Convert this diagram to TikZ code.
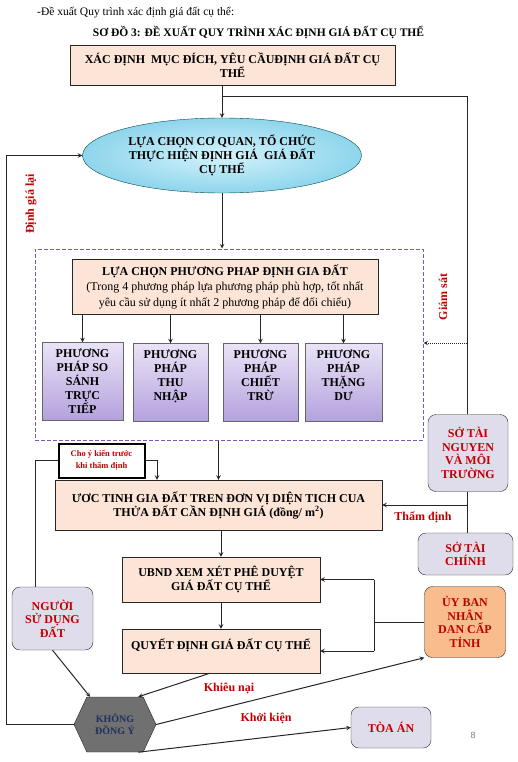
\documentclass[tikz,border=0pt]{standalone}
\usepackage{fontspec}
\setmainfont{Liberation Serif}
\setsansfont{Liberation Sans}
\usepackage{tikz}
\usetikzlibrary{arrows,positioning}
\usetikzlibrary{shapes.geometric}
\usetikzlibrary{shapes.symbols}
\definecolor{ePeach}{HTML}{FCE4D6}
\definecolor{eCyanA}{HTML}{D4F3FB}
\definecolor{eCyanB}{HTML}{8ED5EC}
\definecolor{eLavA}{HTML}{EAE3F7}
\definecolor{eLavB}{HTML}{B4A1DD}
\definecolor{eGrey}{HTML}{DFDDEB}
\definecolor{eOrange}{HTML}{F9BD8D}
\definecolor{eHex}{HTML}{707070}
\definecolor{eNavy}{HTML}{1F3060}
\definecolor{eRed}{HTML}{C00000}
\definecolor{ePurple}{HTML}{7A5CB8}
\definecolor{eLine}{HTML}{262626}
\tikzset{bx/.style={draw=eLine, fill=ePeach, align=center, inner sep=1pt,
  font=\fontsize{12}{14}\selectfont\bfseries}}
\tikzset{pp/.style={draw=gray!80!black, top color=eLavA, bottom color=eLavB,
  align=center, inner sep=1pt, minimum height=78,
  font=\fontsize{12}{14}\selectfont\bfseries}}
\tikzset{so/.style={draw=eLine, rounded corners=8pt, fill=eGrey, text=eRed,
  align=center, inner sep=1pt, font=\fontsize{12}{13.5}\selectfont\bfseries}}
\tikzset{a/.style={draw, line width=1pt, eLine, -stealth}}
\tikzset{aa/.style={draw, line width=1pt, eLine}}
\tikzset{lb/.style={text=eRed, font=\fontsize{12}{14}\selectfont\bfseries}}

\begin{document}
\begin{tikzpicture}[x=1pt, y=-1pt]
  \useasboundingbox (0,0) rectangle (517,762);
  %%
  \node (hd) at (37,13) [anchor=west, inner sep=0pt,
    font=\fontsize{11.5}{13}\selectfont] {-Đề xuất Quy trình xác định giá đất cụ thể:};
  \node (tt) at (258.5,33) [font=\fontsize{11.5}{13}\selectfont\bfseries]
    {SƠ ĐỒ 3: ĐỀ XUẤT QUY TRÌNH XÁC ĐỊNH GIÁ ĐẤT CỤ THỂ};
  %%
  \node (ppbox) at (229,344.5) [draw=ePurple, line width=1pt,
    dash pattern=on 4pt off 2pt, minimum width=388, minimum height=191] {};
  \node (xdmd) at (232.5,65) [bx, minimum width=325, minimum height=40]
    {XÁC ĐỊNH\ \ MỤC ĐÍCH, YÊU CẦUĐỊNH GIÁ ĐẤT CỤ\\THỂ};
  \node (lccq) at (222,155.5) [ellipse, draw=teal!60!black, inner color=eCyanA,
    outer color=eCyanB, minimum width=279, minimum height=75, inner sep=0pt,
    align=center, font=\fontsize{12}{14}\selectfont\bfseries]
    {LỰA CHỌN CƠ QUAN, TỔ CHỨC\\THỰC HIỆN ĐỊNH GIÁ\ \ GIÁ ĐẤT\\CỤ THỂ};
  \node (lcpp) at (225,286.5) [bx, minimum width=306, minimum height=55,
    font=\fontsize{12}{15.5}\selectfont]
    {\textbf{LỰA CHỌN PHƯƠNG PHAP ĐỊNH GIA ĐẤT}\\(Trong 4 phương pháp lựa phương pháp phù hợp, tốt nhất\\yêu cầu sử dụng ít nhất 2 phương pháp để đối chiếu)};
  %%
  \node (m1) at (82.5,381.5) [pp, minimum width=81] {PHƯƠNG\\PHÁP SO\\SÁNH\\TRỰC\\TIẾP};
  \node (m2) at (170.5,382.5) [pp, minimum width=75] {PHƯƠNG\\PHÁP\\THU\\NHẬP\\~};
  \node (m3) at (260.5,382.5) [pp, minimum width=75] {PHƯƠNG\\PHÁP\\CHIẾT\\TRỪ\\~};
  \node (m4) at (343.5,382.5) [pp, minimum width=77] {PHƯƠNG\\PHÁP\\THẶNG\\DƯ\\~};
  %%
  \node (stn) at (468,453) [so, minimum width=80, minimum height=77]
    {SỞ TÀI\\NGUYEN\\VÀ MÔI\\TRƯỜNG};
  \node (stc) at (465.5,554) [so, minimum width=95, minimum height=42]
    {SỞ TÀI\\CHÍNH};
  \node (cyk) at (101.5,460.5) [draw, line width=2pt, fill=white, text=eRed,
    align=center, minimum width=86, minimum height=34, inner sep=1pt,
    font=\fontsize{8.5}{12}\selectfont\bfseries] {Cho ý kiến trước\\khi thẩm định};
  \node (est) at (218.5,505) [bx, minimum width=327, minimum height=50]
    {ƯƠC TINH GIA ĐẤT TREN ĐƠN VỊ DIỆN TICH CUA\\THỬA ĐẤT CẦN ĐỊNH GIÁ (đồng/ m\textsuperscript{2})};
  \node (ubnd) at (221,579.5) [bx, minimum width=198, minimum height=45]
    {UBND XEM XÉT PHÊ DUYỆT\\GIÁ ĐẤT CỤ THỂ};
  \node (qd) at (221,651) [bx, minimum width=198, minimum height=44]
    {QUYẾT ĐỊNH GIÁ ĐẤT CỤ THỂ\\~};
  \node (utinh) at (465,622) [so, fill=eOrange, minimum width=81, minimum height=71]
    {ỦY BAN\\NHÂN\\DAN CẤP\\TỈNH};
  \node (nsd) at (52.5,618.5) [so, minimum width=81, minimum height=63]
    {NGƯỜI\\SỬ DỤNG\\ĐẤT};
  \node (kdy) at (115,724.5) [signal, signal to=east and west,
    signal pointer angle=130, draw=eLine, fill=eHex, text=eNavy, align=center,
    minimum width=82, minimum height=55, inner sep=1pt,
    font=\fontsize{10}{12}\selectfont\bfseries] {KHÔNG\\ĐỒNG Ý};
  \node (toa) at (391,727.5) [so, minimum width=80, minimum height=41] {TÒA ÁN};
  \node (pg) at (473,735) [text=gray, font=\sffamily\fontsize{9}{11}\selectfont] {8};
  %%
  \coordinate (j1) at (222,97);
  \coordinate (gs) at (467,343);
  \path[a] (lccq.north |- xdmd.south) to (lccq.north);
  \path[aa] (stn.north -| gs) |- (j1);
  \path[a] (lccq.south) to (lccq.south |- ppbox.north);
  \path[a, densely dotted] (gs) to (gs -| ppbox.east);
  \node (gsl) at (443,297) [lb, rotate=90] {Giám sát};
  %%
  \path[a] (m1.north |- lcpp.south) to (m1.north);
  \path[a] (m2.north |- lcpp.south) to (m2.north);
  \path[a] (m3.north |- lcpp.south) to (m3.north);
  \path[a] (m4.north |- lcpp.south) to (m4.north);
  %%
  \path[a] (kdy.west) -- ++(-67,0) |- (lccq.west);
  \node (dgl) at (31,204) [lb, rotate=90] {Định giá lại};
  \path[aa] ([xshift=-17pt]nsd.north) |- (cyk.west);
  \path[a] (cyk.east) -| ([xshift=-61.5pt]est.north);
  \path[a] (est.north |- ppbox.south) to (est.north);
  %%
  \path[aa] (stn.south -| gs) to (stc.north -| gs);
  \path[a] (est.east -| gs) to (est.east);
  \node (tdl) at (423,517) [lb] {Thẩm định};
  \path[a] (ubnd.north |- est.south) to (ubnd.north);
  \path[a] (ubnd.south) to (qd.north);
  %%
  \path[aa] (utinh.west) -- ++(-50,0) coordinate (ut);
  \path[aa] (ut |- ubnd.east) to (ut |- qd.east);
  \path[a] (ut |- ubnd.east) to (ubnd.east);
  \path[a] (ut |- qd.east) to (qd.east);
  %%
  \path[a] (nsd.south) to (kdy.132);
  \path[a] ([xshift=-11pt]qd.south) to (kdy.50);
  \node (knl) at (229,688) [lb] {Khiêu nại};
  \path[a] (kdy.east) to (utinh.south west);
  \path[a] (kdy.-50) to (toa.west);
  \node (kkl) at (266,718) [lb] {Khởi kiện};
\end{tikzpicture}
\end{document}
